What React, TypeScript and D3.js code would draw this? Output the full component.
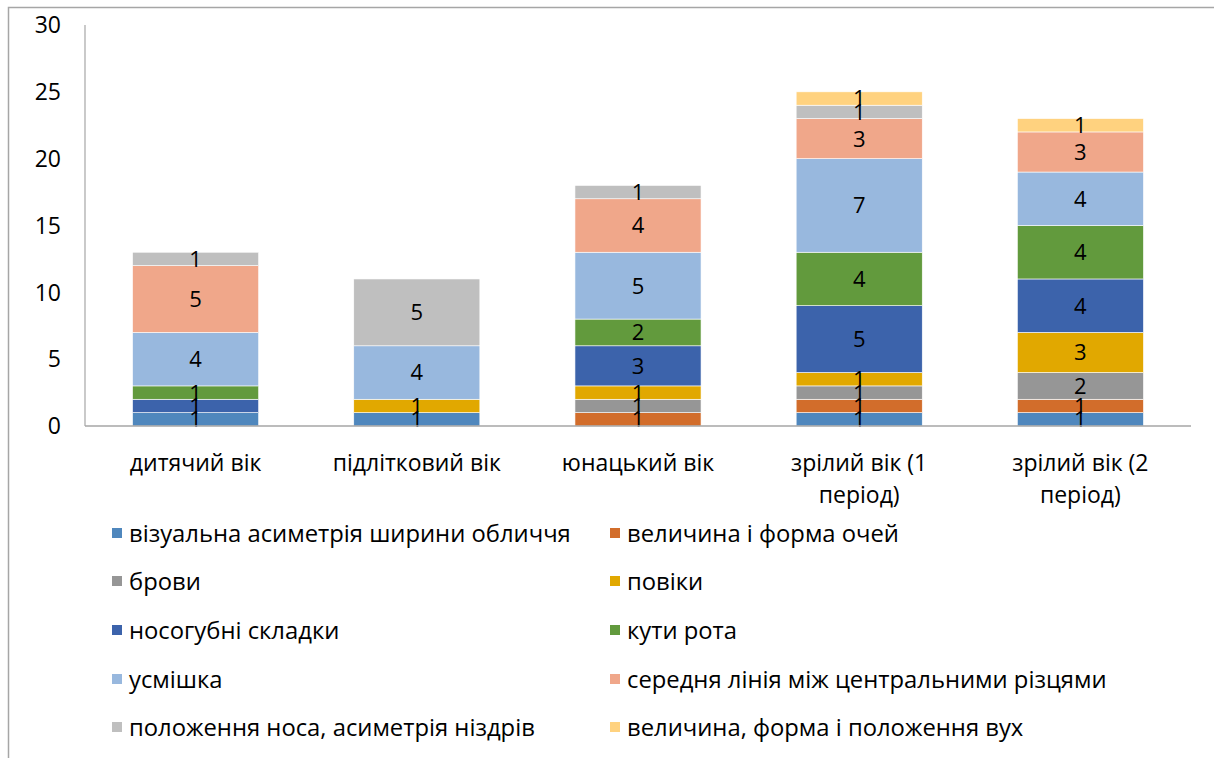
import { useEffect, useRef } from 'react';
import * as d3 from 'd3';

// категорії (вікові періоди)
const categories = ['дитячий вік', 'підлітковий вік', 'юнацький вік', 'зрілий вік (1 період)', 'зрілий вік (2 період)'];
const categoryLines = [['дитячий вік'], ['підлітковий вік'], ['юнацький вік'], ['зрілий вік (1', 'період)'], ['зрілий вік (2', 'період)']];

const seriesNames = [
  'візуальна асиметрія ширини обличчя',
  'величина і форма очей',
  'брови',
  'повіки',
  'носогубні складки',
  'кути рота',
  'усмішка',
  'середня лінія між центральними різцями',
  'положення носа, асиметрія ніздрів',
  'величина, форма і положення вух',
];
const seriesColors = ['#4F87BD', '#D26D2B', '#969696', '#E1A800', '#3C63AB', '#629A3D', '#98B8DE', '#F0A78A', '#BFBFBF', '#FFD27F'];

// значення по серіях (порядок категорій як вище)
const facialWidth = [1, 1, 0, 1, 1];
const eyes = [0, 0, 1, 1, 1];
const brows = [0, 0, 1, 1, 2];
const eyelids = [0, 1, 1, 1, 3];
const nasolabial = [1, 0, 3, 5, 4];
const mouthCorners = [1, 0, 2, 4, 4];
const smile = [4, 4, 5, 7, 4];
const midline = [5, 0, 4, 3, 3];
const nose = [1, 5, 1, 1, 0];
const ears = [0, 0, 0, 1, 1];
const seriesValues = [facialWidth, eyes, brows, eyelids, nasolabial, mouthCorners, smile, midline, nose, ears];

const yTicks = [0, 5, 10, 15, 20, 25, 30];

const FONT = '"Open Sans", sans-serif';
const FS = 23;
const W = 1214;
const H = 758;

export default function App() {
  const svgRef = useRef<SVGSVGElement>(null);

  useEffect(() => {
    if (!svgRef.current) return;
    const svg = d3.select(svgRef.current);
    svg.selectAll('*').remove();

    const plot = { left: 85, right: 1191, top: 25, bottom: 426 };

    // рамка (лише верх і ліво видно)
    svg.append('path')
      .attr('d', `M8.5,${H} V7.5 H${W}`)
      .attr('fill', 'none')
      .attr('stroke', '#a6a6a6')
      .attr('stroke-width', 1.5);

    const x = d3.scaleBand().domain(categories).range([plot.left, plot.right]).paddingInner(0.43).paddingOuter(0.215);
    const y = d3.scaleLinear().domain([0, 30]).range([plot.bottom, plot.top]);

    const rows = categories.map((c, i) => {
      const r: Record<string, any> = { cat: c };
      seriesNames.forEach((s, j) => { r[s] = seriesValues[j][i]; });
      return r;
    });
    const stacked = d3.stack<any>().keys(seriesNames)(rows);

    const g = svg.append('g');
    stacked.forEach((layer, j) => {
      const lg = g.append('g');
      lg.selectAll('rect')
        .data(layer.filter((d) => d[1] - d[0] > 0))
        .enter()
        .append('rect')
        .attr('x', (d) => x(d.data.cat)!)
        .attr('width', x.bandwidth())
        .attr('y', (d) => y(d[1]))
        .attr('height', (d) => y(d[0]) - y(d[1]))
        .attr('fill', seriesColors[j])
        .attr('stroke', '#ffffff')
        .attr('stroke-width', 0.6);
    });

    // осі
    svg.append('line')
      .attr('x1', plot.left).attr('x2', plot.left)
      .attr('y1', plot.top).attr('y2', plot.bottom)
      .attr('stroke', '#a6a6a6').attr('stroke-width', 1.2);
    svg.append('line')
      .attr('x1', plot.left).attr('x2', plot.right)
      .attr('y1', plot.bottom).attr('y2', plot.bottom)
      .attr('stroke', '#a6a6a6').attr('stroke-width', 1.5);

    // підписи даних
    stacked.forEach((layer) => {
      g.append('g').selectAll('text')
        .data(layer.filter((d) => d[1] - d[0] > 0))
        .enter()
        .append('text')
        .attr('x', (d) => x(d.data.cat)! + x.bandwidth() / 2)
        .attr('y', (d) => y((d[0] + d[1]) / 2))
        .attr('dy', '0.36em')
        .attr('text-anchor', 'middle')
        .attr('font-family', FONT)
        .attr('font-size', FS - 1)
        .attr('fill', '#000')
        .text((d) => d[1] - d[0]);
    });

    // мітки осі Y
    svg.append('g').selectAll('text')
      .data(yTicks)
      .enter()
      .append('text')
      .attr('x', 61)
      .attr('y', (d) => y(d))
      .attr('dy', '0.36em')
      .attr('text-anchor', 'end')
      .attr('font-family', FONT)
      .attr('font-size', FS)
      .attr('fill', '#000')
      .text((d) => d);

    // категорії
    categoryLines.forEach((lines, i) => {
      const t = svg.append('text')
        .attr('x', x(categories[i])! + x.bandwidth() / 2)
        .attr('y', 471)
        .attr('text-anchor', 'middle')
        .attr('font-family', FONT)
        .attr('font-size', FS)
        .attr('fill', '#000');
      lines.forEach((ln, k) => {
        t.append('tspan')
          .attr('x', x(categories[i])! + x.bandwidth() / 2)
          .attr('dy', k === 0 ? 0 : 32)
          .text(ln);
      });
    });

    // легенда
    const colX = [112, 610];
    const rowY = [533, 581, 630, 679, 727];
    seriesNames.forEach((s, j) => {
      const cx = colX[j % 2];
      const cy = rowY[Math.floor(j / 2)];
      svg.append('rect')
        .attr('x', cx).attr('y', cy - 5)
        .attr('width', 10).attr('height', 10)
        .attr('fill', seriesColors[j]);
      svg.append('text')
        .attr('x', cx + 17).attr('y', cy)
        .attr('dy', '0.36em')
        .attr('font-family', FONT)
        .attr('font-size', 23.8)
        .attr('fill', '#000')
        .text(s);
    });
  }, []);

  return (
    <svg
      ref={svgRef}
      width={W}
      height={H}
      style={{ position: 'absolute', left: 0, top: 0, background: '#fff' }}
    />
  );
}
